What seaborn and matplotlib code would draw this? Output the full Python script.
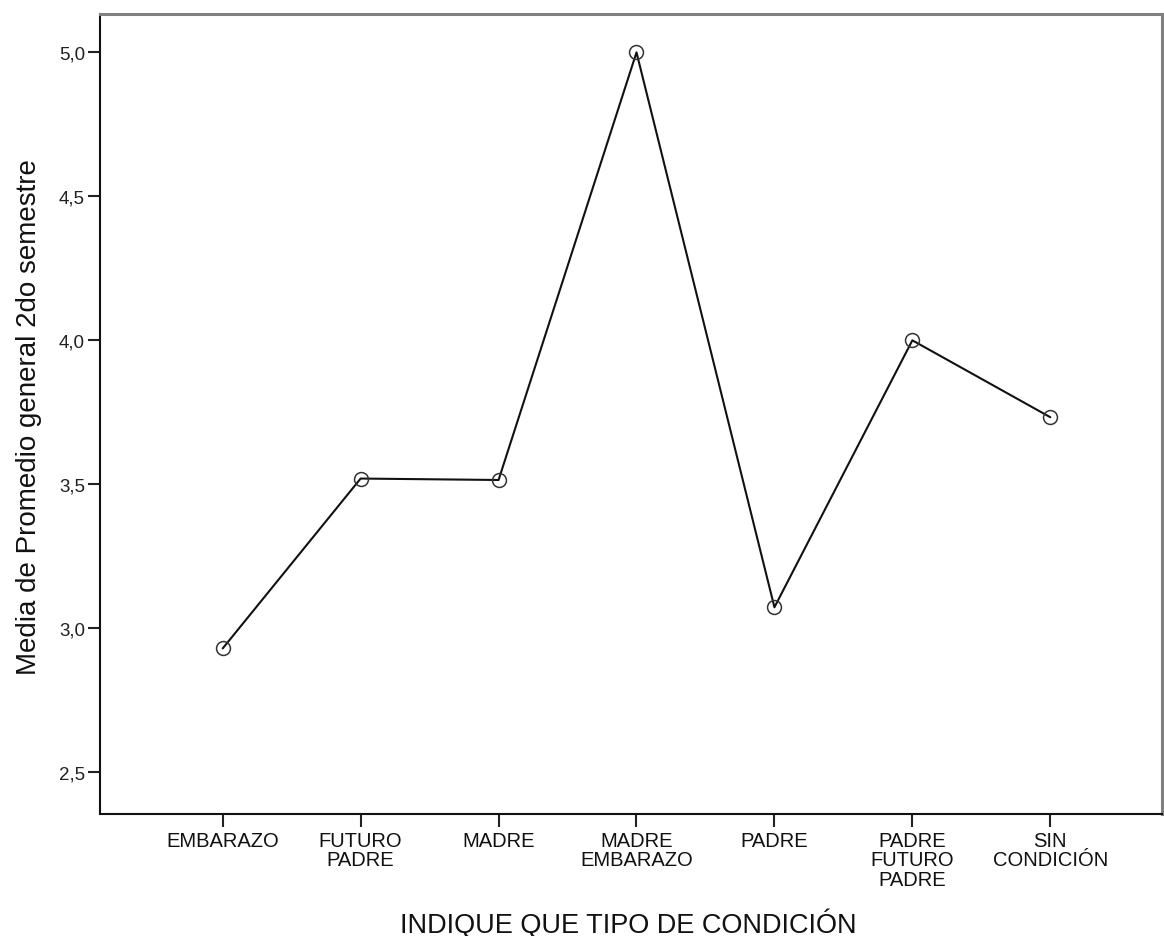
import matplotlib
matplotlib.use("Agg")
import matplotlib.pyplot as plt
import seaborn as sns

# datos
condiciones = ["EMBARAZO", "FUTURO\nPADRE", "MADRE", "MADRE\nEMBARAZO",
               "PADRE", "PADRE\nFUTURO\nPADRE", "SIN\nCONDICIÓN"]
medias = [2.93, 3.52, 3.515, 5.0, 3.073, 4.0, 3.733]
yticks = [2.5, 3.0, 3.5, 4.0, 4.5, 5.0]
yticklabels = ["2,5", "3,0", "3,5", "4,0", "4,5", "5,0"]

sns.set_style("white")
plt.rcParams["font.family"] = ["Liberation Sans", "DejaVu Sans"]

fig = plt.figure(figsize=(11.64, 9.37), dpi=100)
ax = fig.add_axes([0.0855, 0.1302, 0.9128, 0.8543])

sns.lineplot(x=condiciones, y=medias, sort=False, ax=ax, color="#111111",
             linewidth=1.5, marker="o", markersize=10, markerfacecolor="none",
             markeredgecolor="#333333", markeredgewidth=1.1)

ax.set_xlim(-0.893, 6.81)
ax.set_ylim(2.355, 5.135)
ax.set_yticks(yticks)
ax.set_yticklabels(yticklabels)

ax.tick_params(axis="x", bottom=True, length=9, width=1.5, color="#222222",
               pad=3.2, labelsize=14.5, labelcolor="#111111")
ax.tick_params(axis="y", left=True, length=9, width=1.5, color="#222222",
               pad=1.5, labelsize=13.5, labelcolor="#222222")
for t in ax.get_xticklabels():
    t.set_linespacing(1.02)

for s in ["left", "bottom"]:
    ax.spines[s].set_color("#111111")
    ax.spines[s].set_linewidth(1.5)
for s in ["top", "right"]:
    ax.spines[s].set_color("#808080")
    ax.spines[s].set_linewidth(2.2)

ax.set_xlabel("INDIQUE QUE TIPO DE CONDICIÓN", fontsize=19.5, color="#111111")
ax.set_ylabel("Media de Promedio general 2do semestre", fontsize=20, color="#111111")
ax.xaxis.set_label_coords(0.4975, -0.118)
ax.yaxis.set_label_coords(-0.054, 0.497)

fig.savefig("out.png", dpi=100)
